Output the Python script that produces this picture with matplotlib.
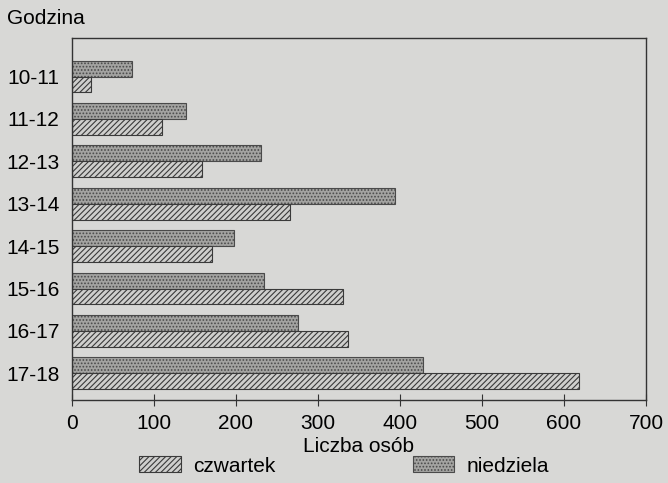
import matplotlib.pyplot as plt
import numpy as np

# Data
godziny = ['10-11', '11-12', '12-13', '13-14', '14-15', '15-16', '16-17', '17-18']
czwartek = [23, 110, 159, 266, 171, 331, 337, 618]
niedziela = [73, 139, 230, 394, 198, 234, 276, 428]

plt.rcParams['font.family'] = ['Liberation Sans', 'DejaVu Sans']
plt.rcParams['font.size'] = 15
plt.rcParams['hatch.linewidth'] = 0.8

bg = '#d8d8d6'
fig = plt.figure(figsize=(6.68, 4.83), dpi=100, facecolor=bg)
ax = fig.add_axes([72 / 668, 1 - 400 / 483, 574 / 668, 362 / 483], facecolor=bg)

y = np.arange(len(godziny))
h = 0.375

ax.barh(y - h / 2, niedziela, height=h, color='#a3a3a1', edgecolor='#4a4a4a',
        linewidth=0.8, hatch='.....', label='niedziela')
ax.barh(y + h / 2, czwartek, height=h, color='#cfcfcd', edgecolor='#3a3a3a',
        linewidth=0.8, hatch='//////', label='czwartek')

ax.set_xlim(0, 700)
ax.set_ylim(7.63, -0.91)
ax.set_xticks(range(0, 701, 100))
ax.set_yticks(y)
ax.set_yticklabels(godziny)
ax.tick_params(axis='x', direction='inout', length=8, color='#333333', pad=6)
ax.tick_params(axis='y', length=0, pad=9)
for s in ax.spines.values():
    s.set_color('#333333')
    s.set_linewidth(1.0)

ax.set_xlabel('Liczba osób', labelpad=3)
fig.text(7 / 668, 1 - 18 / 483, 'Godzina', ha='left', va='center')

handles, labels = ax.get_legend_handles_labels()
fig.legend(handles[::-1], labels[::-1], loc='center', bbox_to_anchor=(344 / 668, 1 - 466 / 483),
           ncol=2, frameon=False, handlelength=2.0, handleheight=0.77,
           handletextpad=0.58, columnspacing=6.6, borderpad=0)

fig.savefig('out.png', dpi=100, facecolor=bg)
